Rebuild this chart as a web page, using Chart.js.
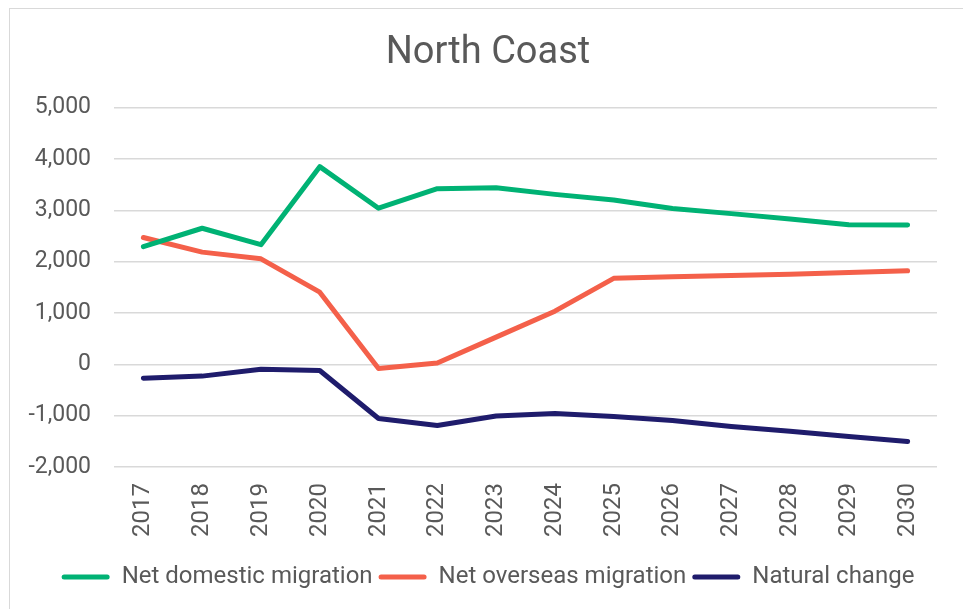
<!DOCTYPE html>
<html>
<head>
<meta charset="utf-8">
<script src="https://cdn.jsdelivr.net/npm/chart.js@4/dist/chart.umd.min.js"></script>
<style>
html,body{margin:0;padding:0;background:#fff;overflow:hidden;width:963px;height:609px;}
#frame{position:absolute;left:9px;top:8px;width:1000px;height:700px;border:1.5px solid #d9d9d9;box-sizing:border-box;}
#c{position:absolute;left:0;top:0;}
</style>
</head>
<body>
<div id="frame"></div>
<canvas id="c" width="963" height="609"></canvas>
<script>
const years = ['2017','2018','2019','2020','2021','2022','2023','2024','2025','2026','2027','2028','2029','2030'];
const netDomestic = [2290, 2650, 2330, 3850, 3040, 3420, 3440, 3310, 3200, 3035, 2935, 2830, 2720, 2715];
const netOverseas = [2470, 2185, 2055, 1405, -80, 25, 530, 1035, 1675, 1705, 1730, 1755, 1790, 1820];
const naturalChange = [-270, -230, -97, -120, -1055, -1190, -1005, -960, -1015, -1095, -1210, -1305, -1405, -1505];
const seriesNames = ['Net domestic migration', 'Net overseas migration', 'Natural change'];
const seriesColors = ['#00b274', '#f4604a', '#1f1c6c'];
const yTicksMin = -2000, yTicksMax = 5000, yStep = 1000;

const textColor = '#595959';
const fontFamily = 'Roboto, "Liberation Sans", sans-serif';

function ds(label, data, color) {
  return {
    label, data,
    borderColor: color, backgroundColor: color,
    borderWidth: 5, pointRadius: 0, pointHoverRadius: 0,
    tension: 0, fill: false,
    borderCapStyle: 'round', borderJoinStyle: 'round'
  };
}

new Chart(document.getElementById('c'), {
  type: 'line',
  data: {
    labels: years,
    datasets: [
      ds(seriesNames[0], netDomestic, seriesColors[0]),
      ds(seriesNames[1], netOverseas, seriesColors[1]),
      ds(seriesNames[2], naturalChange, seriesColors[2])
    ]
  },
  options: {
    responsive: false,
    devicePixelRatio: 1,
    animation: false,
    layout: { padding: { left: 39, right: 26, top: 31, bottom: 10 } },
    plugins: {
      title: {
        display: true, text: 'North Coast', color: textColor,
        font: { family: fontFamily, size: 38, weight: 'normal' },
        padding: { top: 0, bottom: 31 }
      },
      legend: {
        position: 'bottom',
        labels: {
          color: textColor,
          font: { family: fontFamily, size: 24 },
          boxWidth: 48, boxHeight: 5, padding: 6,
          useBorderRadius: true, borderRadius: 2.5,
          generateLabels(chart) {
            return chart.data.datasets.map((d, i) => ({
              text: d.label, fillStyle: d.borderColor, strokeStyle: d.borderColor,
              lineWidth: 0, hidden: false, datasetIndex: i, borderRadius: 2.5, fontColor: textColor
            }));
          }
        }
      },
      tooltip: { enabled: false }
    },
    scales: {
      x: {
        offset: true,
        grid: { display: false, drawTicks: false },
        border: { display: false },
        ticks: {
          color: textColor, font: { family: fontFamily, size: 24 },
          minRotation: 90, maxRotation: 90, padding: 16, autoSkip: false
        },
        afterFit(scale) { scale.height = 92; }
      },
      y: {
        min: yTicksMin, max: yTicksMax,
        grid: { color: '#d9d9d9', lineWidth: 1.5, drawTicks: false },
        border: { display: false },
        ticks: {
          stepSize: yStep, color: textColor, font: { family: fontFamily, size: 23 }, padding: 23,
          callback: v => v.toLocaleString('en-US')
        },
        afterFit(scale) {
          scale.width = 75;
          scale._computeLabelArea = () => undefined;
        }
      }
    }
  }
});
</script>
</body>
</html>
